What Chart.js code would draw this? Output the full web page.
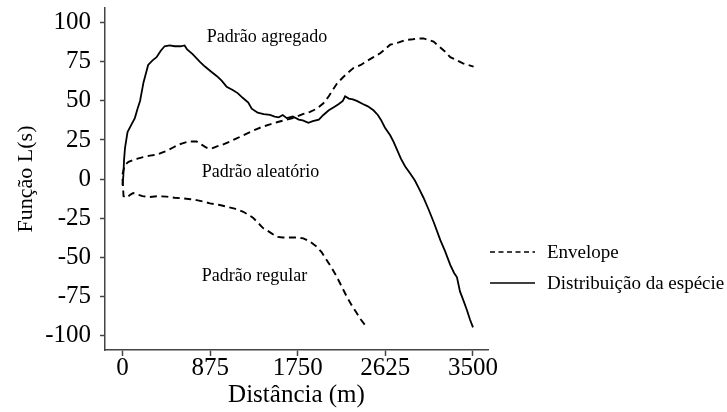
<!DOCTYPE html>
<html lang="pt">
<head>
<meta charset="utf-8">
<script src="https://cdn.jsdelivr.net/npm/chart.js@4/dist/chart.umd.min.js"></script>
<style>
  html, body { margin: 0; padding: 0; background: #fff; }
  canvas { display: block; }
</style>
</head>
<body>
<canvas id="chart" width="727" height="412"></canvas>
<script>
// Tick values of both axes
const xTicks = [0, 875, 1750, 2625, 3500];
const yTicks = [-100, -75, -50, -25, 0, 25, 50, 75, 100];

// Observed L(s) function of the species
const speciesDist = [0, 8, 15, 25, 50, 90, 123, 150, 175, 210, 256, 300, 340, 380, 420, 470, 520, 580, 620, 645,
  700, 773, 823, 880, 940, 990, 1040, 1100, 1150, 1200, 1256, 1290, 1350, 1410, 1473, 1520, 1560, 1600, 1640, 1700,
  1760, 1800, 1856, 1900, 1960, 2006, 2060, 2110, 2160, 2200, 2223, 2260, 2300, 2340, 2400, 2450, 2506, 2550, 2580,
  2620, 2673, 2706, 2740, 2780, 2823, 2873, 2920, 2960, 3006, 3060, 3110, 3173, 3220, 3273, 3310, 3340, 3370, 3406,
  3440, 3470, 3500];
const speciesL = [-4, 2, 12, 20, 30, 35, 39, 45, 50, 62, 73, 76, 78, 82, 85, 85.5, 85, 85, 85.5, 83,
  80, 75, 72, 69, 66, 63, 59, 57, 55, 52, 49, 45, 42.5, 41.5, 41, 40, 39.5, 41, 39, 40,
  38, 37.5, 36, 37, 38, 41, 44, 46, 48, 50, 53, 51.5, 51, 50, 48, 46.5, 44, 41, 38,
  33, 28, 24, 19, 13, 8, 3.5, -1, -6, -12, -20, -28, -39, -46, -55, -60, -63, -72, -78,
  -84, -90, -95];

// Upper limit of the confidence envelope
const upperDist = [0, 15, 23, 60, 100, 150, 206, 273, 340, 400, 440, 500, 560, 606, 660, 740, 790, 840, 890, 950,
  1000, 1073, 1140, 1206, 1273, 1340, 1400, 1473, 1550, 1640, 1700, 1740, 1800, 1873, 1940, 2006, 2060, 2100, 2140,
  2200, 2250, 2306, 2380, 2440, 2506, 2573, 2620, 2673, 2706, 2760, 2823, 2900, 2950, 3006, 3060, 3106, 3160, 3223,
  3273, 3340, 3400, 3450, 3506];
const upperL = [3, 7, 9, 11, 12, 13, 14, 15, 15.5, 17, 18, 20, 22, 23, 24, 24, 22, 20, 19.5, 21,
  22, 24, 26, 28, 30, 32, 33.5, 35, 36.5, 38, 39, 40, 41.5, 43, 45, 48.5, 53, 57, 61,
  65, 68, 71, 73, 75.5, 78, 80.5, 83, 86, 86.5, 87.5, 89, 89.5, 90, 90, 89, 88, 85, 81.5,
  78, 76, 74, 73, 72];

// Lower limit of the confidence envelope
const lowerDist = [0, 5, 10, 40, 80, 106, 150, 200, 273, 350, 440, 520, 606, 680, 740, 810, 873, 960, 1040, 1120,
  1206, 1260, 1306, 1360, 1406, 1470, 1540, 1600, 1673, 1740, 1806, 1870, 1940, 1990, 2040, 2090, 2140, 2190, 2240,
  2290, 2340, 2380, 2423];
const lowerL = [0, -5, -11, -12, -10, -9, -10, -11, -11.5, -11, -11.3, -12, -12.4, -13, -13.5, -14.5, -15.6, -16.5, -17.7, -19,
  -21, -23, -25, -28.5, -31.6, -34, -37, -37.5, -37.4, -37.5, -38, -40, -43.4, -47, -52, -57, -62.6, -69, -75.4,
  -81, -86, -90, -93.6];

// Region labels inside the plot, placed in data units
const regionLabels = ['Padrão agregado', 'Padrão aleatório', 'Padrão regular'];
const regionX = [1443, 1378, 1318];
const regionY = [90.6, 4.3, -62.2];

const SERIF = '"Liberation Serif", "Times New Roman", serif';
const pts = (xs, ys) => xs.map((x, i) => ({ x, y: ys[i] }));

// Region captions drawn through the chart scales
const regionTextPlugin = {
  id: 'regionText',
  afterDatasetsDraw(chart) {
    const { ctx, scales: { x, y } } = chart;
    ctx.save();
    ctx.font = '18px ' + SERIF;
    ctx.fillStyle = '#000';
    ctx.textAlign = 'center';
    ctx.textBaseline = 'middle';
    regionLabels.forEach((t, i) => ctx.fillText(t, x.getPixelForValue(regionX[i]), y.getPixelForValue(regionY[i])));
    ctx.restore();
  }
};

// Side legend: one entry for the envelope, one for the species curve
const sideLegendPlugin = {
  id: 'sideLegend',
  afterDraw(chart) {
    const { ctx, chartArea } = chart;
    const entries = [chart.data.datasets[0], chart.data.datasets[2]];
    const x0 = chartArea.right + 2;
    const rows = [252, 283];
    ctx.save();
    ctx.font = '19px ' + SERIF;
    ctx.fillStyle = '#000';
    ctx.textBaseline = 'middle';
    entries.forEach((ds, i) => {
      ctx.beginPath();
      ctx.strokeStyle = ds.borderColor;
      ctx.lineWidth = 1.6;
      ctx.setLineDash(ds.borderDash && ds.borderDash.length ? [5, 3.5] : []);
      ctx.moveTo(x0, rows[i]);
      ctx.lineTo(x0 + 45, rows[i]);
      ctx.stroke();
      ctx.fillText(ds.label, x0 + 57, rows[i] + 1);
    });
    ctx.restore();
  }
};

const lineBase = { borderColor: '#000', backgroundColor: '#000', pointRadius: 0, tension: 0, fill: false };

new Chart(document.getElementById('chart'), {
  type: 'line',
  data: {
    datasets: [
      { ...lineBase, label: 'Envelope', data: pts(upperDist, upperL), borderWidth: 1.9, borderDash: [7, 4.5] },
      { ...lineBase, label: 'Envelope', data: pts(lowerDist, lowerL), borderWidth: 1.9, borderDash: [7, 4.5] },
      { ...lineBase, label: 'Distribuição da espécie', data: pts(speciesDist, speciesL), borderWidth: 1.8 }
    ]
  },
  options: {
    responsive: false,
    animation: false,
    devicePixelRatio: 1,
    layout: { padding: { left: 0, top: 8, right: 239, bottom: 0 } },
    plugins: { legend: { display: false }, tooltip: { enabled: false } },
    scales: {
      x: {
        type: 'linear',
        min: -175,
        max: 3650,
        afterBuildTicks: s => { s.ticks = xTicks.map(v => ({ value: v })); },
        afterFit: s => { s.height = 62; s.paddingLeft = 0; s.paddingRight = 0; },
        ticks: {
          font: { family: SERIF, size: 25 },
          color: '#000',
          padding: -3,
          maxRotation: 0,
          autoSkip: false,
          callback: v => String(v)
        },
        grid: { drawOnChartArea: false, drawTicks: true, tickLength: 6, tickColor: '#444', tickWidth: 1.5 },
        border: { color: '#444', width: 1.5 },
        title: { display: true, text: 'Distância (m)', color: '#000', font: { family: SERIF, size: 25 }, padding: { top: 0, bottom: 2 } }
      },
      y: {
        min: -109.5,
        max: 109.5,
        afterBuildTicks: s => { s.ticks = yTicks.map(v => ({ value: v })); },
        afterFit: s => { s.width = 105; s.paddingTop = 0; s.paddingBottom = 0; },
        ticks: {
          font: { family: SERIF, size: 25 },
          color: '#000',
          padding: 9,
          callback: v => String(v)
        },
        grid: { drawOnChartArea: false, drawTicks: true, tickLength: 5, tickColor: '#444', tickWidth: 1.5 },
        border: { color: '#444', width: 1.5 },
        title: { display: true, text: 'Função L(s)', color: '#000', font: { family: SERIF, size: 22 }, padding: { top: 13, bottom: 0 } }
      }
    }
  },
  plugins: [regionTextPlugin, sideLegendPlugin]
});
</script>
</body>
</html>
